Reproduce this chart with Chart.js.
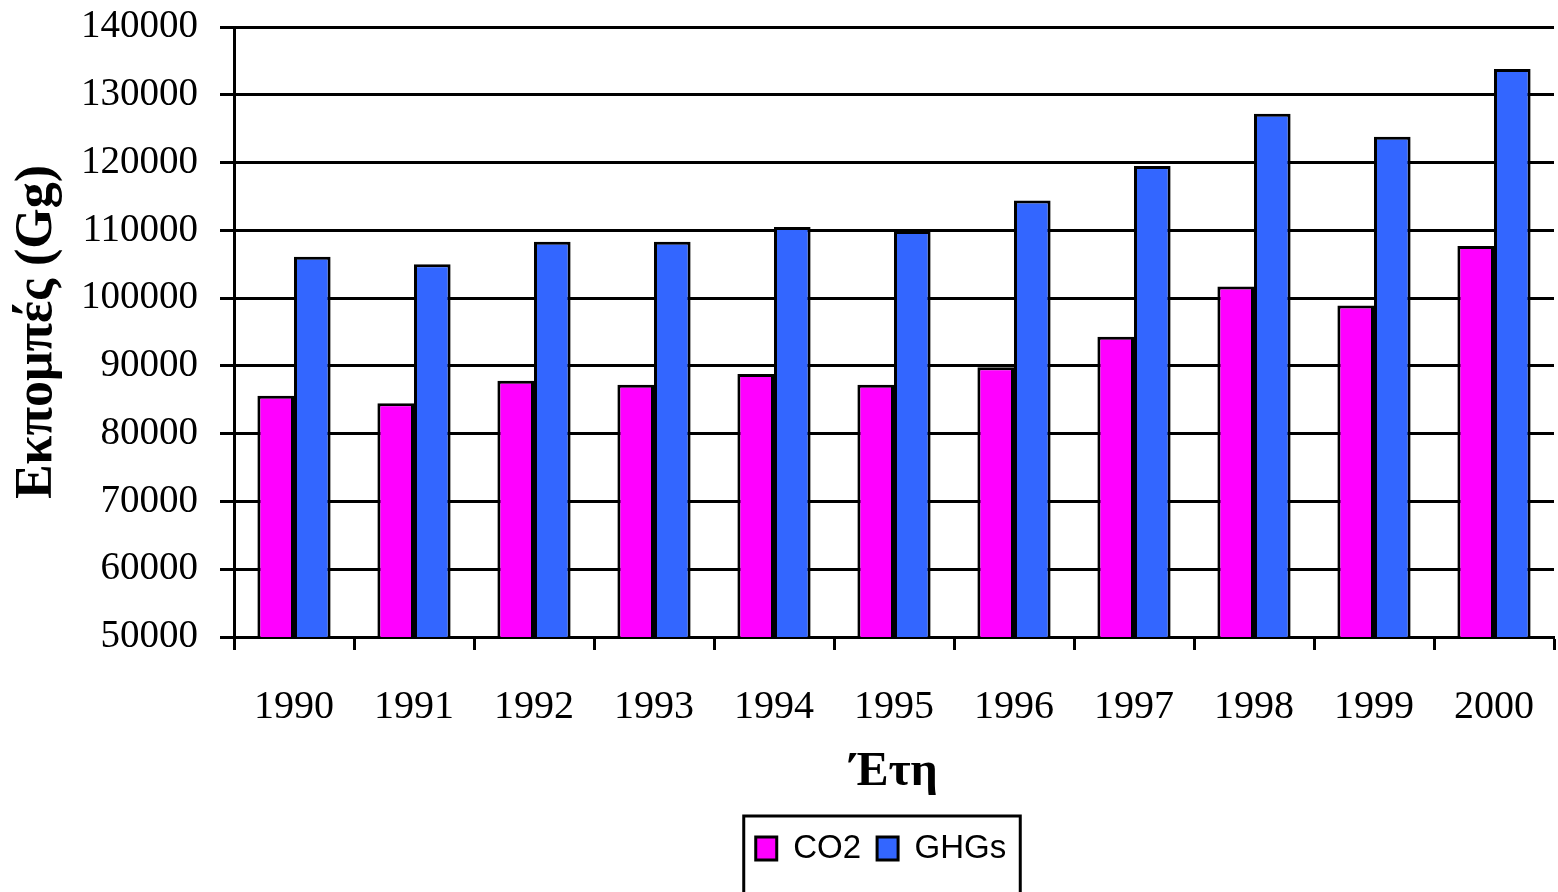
<!DOCTYPE html>
<html>
<head>
<meta charset="utf-8">
<script src="https://cdn.jsdelivr.net/npm/chart.js@4/dist/chart.umd.min.js"></script>
<style>
  html, body { margin: 0; padding: 0; background: #fff; }
</style>
</head>
<body>
<canvas id="emissionsChart" width="1558" height="892"></canvas>
<script>
    "use strict";

    // values (Gg)
    var years = ['1990', '1991', '1992', '1993', '1994', '1995', '1996', '1997', '1998', '1999', '2000'];
    var co2 = [85600, 84500, 87800, 87200, 88800, 87200, 89800, 94300, 101700, 98900, 107700];
    var ghgs = [106100, 105000, 108300, 108300, 110500, 109900, 114400, 119500, 127200, 123800, 133800];
    var yMin = 50000;
    var yMax = 140000;
    var yStep = 10000;

    var serif = "'Liberation Serif', 'Times New Roman', serif";
    var sans = "'Liberation Sans', Arial, sans-serif";

    // legend sits under the plot area, not the whole canvas, and has a frame
    var legendFrame = {
        id: 'legendFrame',
        afterUpdate: function (chart) {
            var lg = chart.legend;
            if (!lg || !lg.legendHitBoxes) return;
            var dx = 881 - (lg.left + lg.right) / 2;
            lg.left += dx;
            lg.right += dx;
            lg.legendHitBoxes.forEach(function (b) { b.left += dx; });
        },
        afterDraw: function (chart) {
            var lg = chart.legend;
            if (!lg || !lg.legendHitBoxes || !lg.legendHitBoxes.length) return;
            var boxes = lg.legendHitBoxes;
            var left = Math.min.apply(null, boxes.map(function (b) { return b.left; })) - 12;
            var right = Math.max.apply(null, boxes.map(function (b) { return b.left + b.width; })) + 14;
            var ctx = chart.ctx;
            ctx.save();
            ctx.strokeStyle = '#000';
            ctx.lineWidth = 3;
            ctx.strokeRect(left, lg.top, right - left, chart.height - lg.top + 10);
            ctx.restore();
        }
    };

    var ctx = document.getElementById('emissionsChart').getContext('2d');
    new Chart(ctx, {
        type: 'bar',
        data: {
            labels: years,
            datasets: [{
                label: 'CO2',
                data: co2,
                backgroundColor: '#FF00FF',
                borderColor: '#000',
                borderWidth: 3,
                borderSkipped: false
            }, {
                label: 'GHGs',
                data: ghgs,
                backgroundColor: '#3366FF',
                borderColor: '#000',
                borderWidth: 3,
                borderSkipped: false
            }]
        },
        options: {
            responsive: false,
            animation: false,
            layout: {
                padding: { top: 27, right: 4, left: 0, bottom: 17 }
            },
            categoryPercentage: 0.61,
            barPercentage: 1.0,
            plugins: {
                tooltip: { enabled: false },
                legend: {
                    position: 'bottom',
                    labels: {
                        color: '#000',
                        font: { family: sans, size: 33 },
                        boxWidth: 21,
                        boxHeight: 23,
                        padding: 16
                    }
                }
            },
            scales: {
                x: {
                    grid: {
                        display: true,
                        drawOnChartArea: false,
                        drawTicks: true,
                        tickLength: 13,
                        tickColor: '#000',
                        tickWidth: 3,
                        offset: true
                    },
                    border: { display: true, color: '#000', width: 3 },
                    ticks: {
                        color: '#000',
                        font: { family: serif, size: 40 },
                        padding: 33,
                        maxRotation: 0
                    },
                    title: {
                        display: true,
                        text: 'Έτη',
                        color: '#000',
                        font: { family: serif, size: 48, weight: 'bold' },
                        padding: { top: 0, bottom: 15 }
                    },
                    afterFit: function (scale) {
                        scale.height = 179;
                        scale.paddingLeft = 0;
                        scale.paddingRight = 0;
                    }
                },
                y: {
                    min: yMin,
                    max: yMax,
                    grid: {
                        color: '#000',
                        lineWidth: 3,
                        drawTicks: true,
                        tickLength: 14,
                        tickColor: '#000',
                        tickWidth: 3
                    },
                    border: { display: true, color: '#000', width: 3 },
                    ticks: {
                        stepSize: yStep,
                        color: '#000',
                        font: { family: serif, size: 39 },
                        padding: 22,
                        callback: function (v) { return String(v); }
                    },
                    title: {
                        display: true,
                        text: 'Εκπομπές (Gg)',
                        color: '#000',
                        font: { family: serif, size: 52, weight: 'bold' },
                        padding: { top: 6, bottom: 0 }
                    },
                    afterFit: function (scale) {
                        scale.width = 234;
                        scale.paddingTop = 0;
                        scale.paddingBottom = 0;
                    }
                }
            }
        },
        plugins: [legendFrame]
    });
</script>
</body>
</html>
